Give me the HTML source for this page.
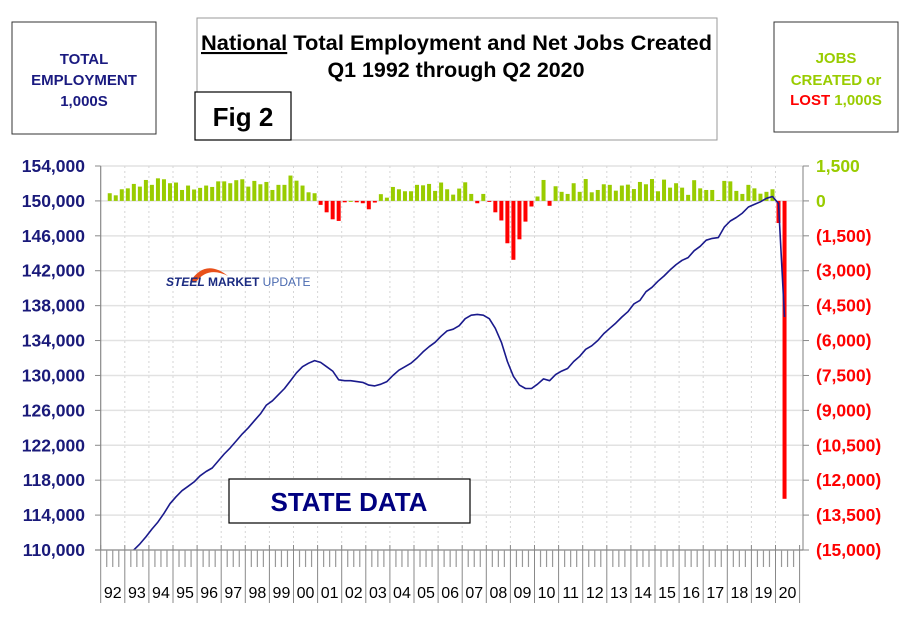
<!DOCTYPE html>
<html><head><meta charset="utf-8"><style>
html,body{margin:0;padding:0;background:#fff;}
svg{display:block;font-family:"Liberation Sans",Arial,sans-serif;}
</style></head><body>
<svg id="c" width="910" height="622" viewBox="0 0 910 622">
  <rect x="12" y="22" width="144" height="112" fill="#fff" stroke="#333" stroke-width="1"/>
  <g font-weight="bold" font-size="15" fill="#1a1a80" text-anchor="middle">
    <text x="84" y="64">TOTAL</text><text x="84" y="85">EMPLOYMENT</text><text x="84" y="106">1,000S</text>
  </g>
  <rect x="197" y="18" width="520" height="122" fill="#fff" stroke="#999" stroke-width="1"/>
  <text x="201" y="50" textLength="511" lengthAdjust="spacingAndGlyphs" font-weight="bold" font-size="21" fill="#000"><tspan text-decoration="underline">National</tspan> Total Employment and Net Jobs Created</text>
  <text x="456" y="77" text-anchor="middle" textLength="257" lengthAdjust="spacingAndGlyphs" font-weight="bold" font-size="21" fill="#000">Q1 1992 through Q2 2020</text>
  <rect x="195" y="92" width="96" height="48" fill="#fff" stroke="#000" stroke-width="1.2"/>
  <text x="243" y="126" text-anchor="middle" font-weight="bold" font-size="26" fill="#000">Fig 2</text>
  <rect x="774" y="22" width="124" height="110" fill="#fff" stroke="#333" stroke-width="1"/>
  <g font-weight="bold" font-size="15" text-anchor="middle">
    <text x="836" y="63" fill="#99cc00">JOBS</text>
    <text x="836" y="85" fill="#99cc00">CREATED or</text>
    <text x="836" y="105"><tspan fill="#ff0000">LOST</tspan><tspan fill="#99cc00"> 1,000S</tspan></text>
  </g>
  <g id="grid"></g>
  <g id="bars"></g>
  <g id="logo">
    <path d="M190 282 Q205 258 228 276 Q208 266 196 282 Z" fill="#e8501a"/>
    <text x="166" y="286" font-size="12" font-weight="bold"><tspan fill="#1a2a80" font-style="italic">STEEL</tspan><tspan fill="#1a2a80"> MARKET</tspan><tspan fill="#4a6ab0" font-weight="normal"> UPDATE</tspan></text>
  </g>
  <rect x="229" y="479" width="241" height="44" fill="#fff" stroke="#000" stroke-width="1.2"/>
  <text x="349" y="511" text-anchor="middle" font-weight="bold" font-size="26" fill="#000080">STATE DATA</text>
  <g id="line"></g>
  <g id="axes"></g>
</svg>
<script>
const years = ["92","93","94","95","96","97","98","99","00","01","02","03","04","05","06","07","08","09","10","11","12","13","14","15","16","17","18","19","20"];
const leftTicks = [110000,114000,118000,122000,126000,130000,134000,138000,142000,146000,150000,154000];
const rightTicks = [1500,0,-1500,-3000,-4500,-6000,-7500,-9000,-10500,-12000,-13500,-15000];
const rightTickLabels = ["1,500","0","(1,500)","(3,000)","(4,500)","(6,000)","(7,500)","(9,000)","(10,500)","(12,000)","(13,500)","(15,000)"];
// Total employment (1,000s), quarterly Q1 1992 .. Q2 2020
const employment = [108300,108600,108900,109200,109600,110000,110700,111500,112400,113200,114200,115300,116100,116800,117300,117800,118500,119000,119400,120200,121000,121700,122500,123300,124000,124800,125600,126600,127100,127800,128500,129400,130300,131000,131400,131700,131500,131000,130500,129500,129400,129400,129300,129200,128900,128800,129000,129300,130000,130600,131000,131400,132000,132700,133300,133800,134500,135100,135300,135700,136500,136900,137000,136900,136500,135400,133800,131600,129900,128900,128500,128500,129000,129600,129400,130100,130500,130800,131600,132200,133000,133400,134000,134800,135400,136000,136700,137300,138200,138600,139600,140100,140800,141400,142100,142700,143200,143500,144300,144800,145500,145700,145800,147000,147700,148100,148600,149300,149600,149900,150300,150500,149700,136700];
// Net jobs created (1,000s), Q2 1992 .. Q2 2020
const jobs = [330,240,500,540,730,615,900,690,970,930,760,790,470,660,490,560,660,600,840,840,760,890,930,615,860,715,815,470,690,690,1090,870,660,370,330,-170,-490,-790,-860,-60,0,-60,-100,-360,-70,290,140,600,500,415,415,690,670,730,430,790,
500,270,530,800,300,-100,300,-30,-490,-840,-1820,-2530,-1650,-890,-240,190,900,-210,630,390,300,760,390,940,370,470,715,690,440,660,700,510,815,715,940,415,915,570,760,570,260,890,540,470,470,40,860,840,430,300,690,540,310,390,500,-950,-12800];

const NS="http://www.w3.org/2000/svg";
const X0=100.7, QW=6.025, XR=803, YT=166, YB=550;
const nQ = years.length*4;
function xSlot(i){return X0+QW*i;}
function xQ(i){return X0+QW*(i+0.5);}
function yL(v){return YB-(v-110000)/44000*(YB-YT);}
function yR(v){return YB-(v+15000)/16500*(YB-YT);}
function mk(tag,attrs,parent){const e=document.createElementNS(NS,tag);for(const k in attrs)e.setAttribute(k,attrs[k]);parent.appendChild(e);return e;}
const grid=document.getElementById('grid'), bars=document.getElementById('bars'), lineG=document.getElementById('line'), axes=document.getElementById('axes');
leftTicks.forEach((v,k)=>{ if(k===0)return;
  const g=mk('line',{x1:X0,x2:XR,y1:yL(v),y2:yL(v),stroke:'#e2e2e2','stroke-width':1.5},grid);
  
  
});
years.forEach((y,k)=>{ if(k===0)return;
  const g=mk('line',{x1:xSlot(k*4),x2:xSlot(k*4),y1:YT,y2:YB,stroke:'#d6d6d6','stroke-width':1,'stroke-dasharray':'2,3'},grid);
  
  
});
jobs.forEach((v,k)=>{
  const i=k+1, y0=yR(0), y1=yR(v);
  const r=mk('rect',{x:xQ(i)-2,y:Math.min(y0,y1),width:4,height:Math.max(1,Math.abs(y1-y0)),fill:v>=0?'#99cc00':'#ff0000'},bars);
  
  
});
mk('clipPath',{id:'clp'},lineG).appendChild((()=>{const r=document.createElementNS(NS,'rect');r.setAttribute('x',X0);r.setAttribute('y',YT);r.setAttribute('width',XR-X0);r.setAttribute('height',YB-YT);return r;})());
const pts=employment.map((v,i)=>xQ(i).toFixed(1)+','+yL(v).toFixed(1)).join(' ');
const pl=mk('polyline',{points:pts,fill:'none',stroke:'#1a1a8c','stroke-width':1.6,'clip-path':'url(#clp)','stroke-linejoin':'round'},lineG);


mk('line',{x1:X0,x2:X0,y1:YT,y2:YB,stroke:'#888','stroke-width':1.2},axes);
mk('line',{x1:XR,x2:XR,y1:YT,y2:YB,stroke:'#aaa','stroke-width':1.5},axes);
mk('line',{x1:95,x2:XR,y1:YB,y2:YB,stroke:'#888','stroke-width':1.2},axes);
leftTicks.forEach(v=>{
  mk('line',{x1:95,x2:X0,y1:yL(v),y2:yL(v),stroke:'#888'},axes);
  const t=mk('text',{x:85,y:yL(v)+6,'text-anchor':'end','font-size':17.5,'font-weight':'bold',fill:'#1a1a7a'},axes);
  t.textContent=v.toLocaleString('en-US');
  
  
});
rightTicks.forEach((v,k)=>{
  mk('line',{x1:XR,x2:XR+6,y1:yR(v),y2:yR(v),stroke:'#888'},axes);
  const t=mk('text',{x:816,y:yR(v)+6,'font-size':17.5,'font-weight':'bold',fill:v>=0?'#99cc00':'#ff0000'},axes);
  t.textContent=rightTickLabels[k];
  
  
});
for(let i=0;i<=nQ;i++){
  const yr=i%4===0;
  mk('line',{x1:xSlot(i),x2:xSlot(i),y1:yr?545:YB,y2:yr?603:567,stroke:yr?'#888':'#999','stroke-width':yr?1:1.2},axes);
}
years.forEach((y,k)=>{
  const t=mk('text',{x:xSlot(k*4)+QW*2,y:598,'text-anchor':'middle','font-size':16,fill:'#000'},axes);
  t.textContent=y;
  
  
});
</script>
</body></html>
